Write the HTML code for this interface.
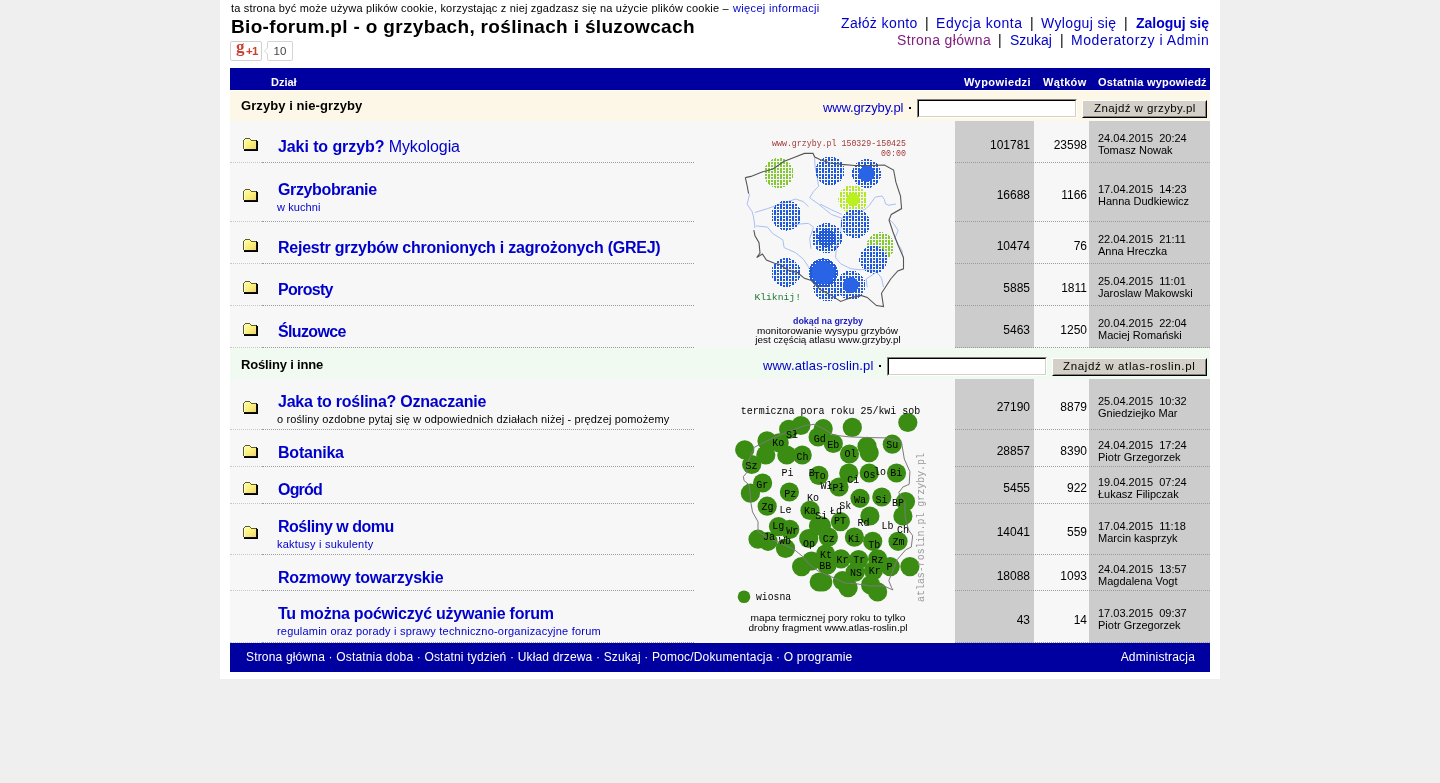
<!DOCTYPE html>
<html><head><meta charset="utf-8"><title>Bio-forum.pl</title>
<style>
html,body{margin:0;padding:0;}
body{background:#efefef;width:1440px;height:783px;overflow:hidden;position:relative;font-family:"Liberation Sans",sans-serif;}
body>div,body>svg{position:absolute;}
.t{white-space:nowrap;will-change:transform;}
</style></head><body>
<svg width="0" height="0" style="left:0;top:0"><defs><linearGradient id="fgrad" x1="0" y1="0" x2="1" y2="1"><stop offset="0" stop-color="#ffff9a"/><stop offset="0.5" stop-color="#fbf07a"/><stop offset="1" stop-color="#f0d27c"/></linearGradient></defs></svg>
<div style="left:220px;top:0px;width:1000px;height:679px;background:#fff"></div>
<div class="t" style="left:230.5px;top:-0.31px;font-size:11px;line-height:17px;font-weight:normal;color:#000;;letter-spacing:0.191px">ta strona być może używa plików cookie, korzystając z niej zgadzasz się na użycie plików cookie –</div>
<div class="t" style="left:732.7px;top:-0.31px;font-size:11px;line-height:17px;font-weight:normal;color:#0000cc;;letter-spacing:0.350px">więcej informacji</div>
<div class="t" style="left:230.5px;top:13.52px;font-size:19px;line-height:25px;font-weight:bold;color:#000;;letter-spacing:0.331px">Bio-forum.pl - o grzybach, roślinach i śluzowcach</div>
<div style="left:230px;top:41px;width:30px;height:18px;border:1px solid #d0d0d0;border-radius:2px;background:#fff"></div>
<div class="t" style="left:235.5px;top:35.11px;font-size:17px;line-height:23px;font-weight:bold;color:#c8402e;font-family:'Liberation Serif',serif;">g</div>
<div class="t" style="left:245.5px;top:41.72px;font-size:11.5px;line-height:18px;font-weight:bold;color:#c8402e;letter-spacing:-0.8px">+1</div>
<div style="left:267px;top:41px;width:24px;height:18px;border:1px solid #d4d4d4;border-radius:2px;background:#fff"></div>
<div style="left:264px;top:47px;width:0;height:0;border-top:4px solid transparent;border-bottom:4px solid transparent;border-right:4px solid #d4d4d4"></div>
<div style="left:265px;top:48px;width:0;height:0;border-top:3px solid transparent;border-bottom:3px solid transparent;border-right:3px solid #fff"></div>
<div class="t" style="left:-120px;width:800px;text-align:center;top:42.02px;font-size:11.5px;line-height:18px;font-weight:normal;color:#444;">10</div>
<div class="t" style="left:840.8px;top:12.95px;font-size:14px;line-height:20px;font-weight:normal;color:#0000cc;;letter-spacing:0.403px">Załóż konto</div>
<div class="t" style="left:925.2px;top:12.95px;font-size:14px;line-height:20px;font-weight:normal;color:#000;">|</div>
<div class="t" style="left:936.3px;top:12.95px;font-size:14px;line-height:20px;font-weight:normal;color:#0000cc;;letter-spacing:0.539px">Edycja konta</div>
<div class="t" style="left:1030.1px;top:12.95px;font-size:14px;line-height:20px;font-weight:normal;color:#000;">|</div>
<div class="t" style="left:1041.4px;top:12.95px;font-size:14px;line-height:20px;font-weight:normal;color:#0000cc;;letter-spacing:0.353px">Wyloguj się</div>
<div class="t" style="left:1124.4px;top:12.95px;font-size:14px;line-height:20px;font-weight:normal;color:#000;">|</div>
<div class="t" style="left:1135.8px;top:12.95px;font-size:14px;line-height:20px;font-weight:bold;color:#0000cc;;letter-spacing:-0.013px">Zaloguj się</div>
<div class="t" style="left:896.7px;top:29.55px;font-size:14px;line-height:20px;font-weight:normal;color:#802080;;letter-spacing:0.349px">Strona główna</div>
<div class="t" style="left:998.1px;top:29.55px;font-size:14px;line-height:20px;font-weight:normal;color:#000;">|</div>
<div class="t" style="left:1009.9px;top:29.55px;font-size:14px;line-height:20px;font-weight:normal;color:#0000cc;;letter-spacing:-0.026px">Szukaj</div>
<div class="t" style="left:1060px;top:29.55px;font-size:14px;line-height:20px;font-weight:normal;color:#000;">|</div>
<div class="t" style="left:1071.3px;top:29.55px;font-size:14px;line-height:20px;font-weight:normal;color:#0000cc;;letter-spacing:0.566px">Moderatorzy i Admin</div>
<div style="left:230px;top:68px;width:980px;height:22px;background:#0000a0"></div>
<div class="t" style="left:271.3px;top:74.19px;font-size:11px;line-height:17px;font-weight:bold;color:#fff;">Dział</div>
<div class="t" style="left:964.4px;top:74.19px;font-size:11px;line-height:17px;font-weight:bold;color:#fff;;letter-spacing:0.428px">Wypowiedzi</div>
<div class="t" style="left:1042.6px;top:74.19px;font-size:11px;line-height:17px;font-weight:bold;color:#fff;;letter-spacing:0.328px">Wątków</div>
<div class="t" style="left:1098.1px;top:74.19px;font-size:11px;line-height:17px;font-weight:bold;color:#fff;;letter-spacing:0.203px">Ostatnia wypowiedź</div>
<div style="left:230px;top:90px;width:980px;height:31px;background:#fdf7e7"></div>
<div style="left:230px;top:90px;width:980px;height:1px;background:#fff"></div>
<div class="t" style="left:241px;top:96.00px;font-size:13px;line-height:19px;font-weight:bold;color:#000;;letter-spacing:0.077px">Grzyby i nie-grzyby</div>
<div class="t" style="left:823px;top:98.00px;font-size:13px;line-height:19px;font-weight:normal;color:#0000cc;;letter-spacing:-0.135px">www.grzyby.pl</div>
<div style="left:909px;top:107px;width:2px;height:2px;background:#000"></div>
<div style="left:917px;top:99px;width:158px;height:17px;border-style:solid;border-width:1px;border-color:#808080 #fff #fff #808080"><div style="position:absolute;left:0;top:0;right:0;bottom:0;border-style:solid;border-width:1px;border-color:#000 #d4d0c8 #d4d0c8 #000;background:#fff"></div></div>
<div style="left:1082px;top:100px;width:123px;height:16px;background:#d4d0c8;border-style:solid;border-width:1px;border-color:#fff #000 #000 #fff"><div style="position:absolute;left:0;top:0;right:0;bottom:0;border-style:solid;border-width:1px;border-color:#d4d0c8 #808080 #808080 #d4d0c8"></div></div>
<div class="t" style="left:1093.6px;top:99.02px;font-size:11.5px;line-height:18px;font-weight:normal;color:#000;;letter-spacing:0.412px">Znajdź w grzyby.pl</div>
<div style="left:230px;top:121px;width:725px;height:42px;background:#f7f7f7"></div>
<div style="left:955px;top:121px;width:79px;height:42px;background:#cccccc"></div>
<div style="left:1034px;top:121px;width:55px;height:42px;background:#f7f7f7"></div>
<div style="left:1089px;top:121px;width:121px;height:42px;background:#cccccc"></div>
<div style="left:230px;top:162px;width:32px;height:1px;border-top:1px dotted #c8c8c8;height:0"></div>
<div style="left:262px;top:162px;width:432px;height:1px;border-top:1px dotted #9a9a9a;height:0"></div>
<div style="left:955px;top:162px;width:255px;height:1px;border-top:1px dotted #9a9a9a;height:0"></div>
<svg width="15" height="13" viewBox="0 0 15 13" style="left:243px;top:138px" shape-rendering="crispEdges"><rect x="1" y="2" width="12" height="9" fill="url(#fgrad)"/><rect x="2" y="1" width="5" height="1" fill="#fdfbb0"/><rect x="1" y="2" width="1" height="9" fill="#ffffd8"/><rect x="2" y="0" width="5" height="1" fill="#5a5a30"/><rect x="1" y="1" width="1" height="1" fill="#5a5a30"/><rect x="7" y="1" width="1" height="1" fill="#5a5a30"/><rect x="8" y="2" width="5" height="1" fill="#5a5a30"/><rect x="0" y="2" width="1" height="9" fill="#5a5a30"/><rect x="13" y="2" width="1" height="10" fill="#111"/><rect x="1" y="11" width="13" height="1" fill="#111"/><rect x="1" y="12" width="14" height="1" fill="#000"/><rect x="14" y="3" width="1" height="10" fill="#000"/></svg>
<div class="t" style="left:277.5px;top:135.96px;font-size:16px;line-height:22px;font-weight:bold;color:#0000cc;;letter-spacing:-0.090px">Jaki to grzyb?<span style="font-weight:normal"> Mykologia</span></div>
<div class="t" style="left:330px;width:700px;text-align:right;top:135.64px;font-size:12px;line-height:18px;font-weight:normal;color:#000;">101781</div>
<div class="t" style="left:387px;width:700px;text-align:right;top:135.64px;font-size:12px;line-height:18px;font-weight:normal;color:#000;">23598</div>
<div class="t" style="left:1098px;top:130.19px;font-size:11px;line-height:17px;font-weight:normal;color:#000;">24.04.2015&nbsp; 20:24</div>
<div class="t" style="left:1098px;top:142.19px;font-size:11px;line-height:17px;font-weight:normal;color:#000;">Tomasz Nowak</div>
<div style="left:230px;top:163px;width:725px;height:59px;background:#f7f7f7"></div>
<div style="left:955px;top:163px;width:79px;height:59px;background:#cccccc"></div>
<div style="left:1034px;top:163px;width:55px;height:59px;background:#f7f7f7"></div>
<div style="left:1089px;top:163px;width:121px;height:59px;background:#cccccc"></div>
<div style="left:230px;top:221px;width:32px;height:1px;border-top:1px dotted #c8c8c8;height:0"></div>
<div style="left:262px;top:221px;width:432px;height:1px;border-top:1px dotted #9a9a9a;height:0"></div>
<div style="left:955px;top:221px;width:255px;height:1px;border-top:1px dotted #9a9a9a;height:0"></div>
<svg width="15" height="13" viewBox="0 0 15 13" style="left:243px;top:189px" shape-rendering="crispEdges"><rect x="1" y="2" width="12" height="9" fill="url(#fgrad)"/><rect x="2" y="1" width="5" height="1" fill="#fdfbb0"/><rect x="1" y="2" width="1" height="9" fill="#ffffd8"/><rect x="2" y="0" width="5" height="1" fill="#5a5a30"/><rect x="1" y="1" width="1" height="1" fill="#5a5a30"/><rect x="7" y="1" width="1" height="1" fill="#5a5a30"/><rect x="8" y="2" width="5" height="1" fill="#5a5a30"/><rect x="0" y="2" width="1" height="9" fill="#5a5a30"/><rect x="13" y="2" width="1" height="10" fill="#111"/><rect x="1" y="11" width="13" height="1" fill="#111"/><rect x="1" y="12" width="14" height="1" fill="#000"/><rect x="14" y="3" width="1" height="10" fill="#000"/></svg>
<div class="t" style="left:277.5px;top:178.96px;font-size:16px;line-height:22px;font-weight:bold;color:#0000cc;;letter-spacing:-0.367px">Grzybobranie</div>
<div class="t" style="left:277px;top:198.89px;font-size:11px;line-height:17px;font-weight:normal;color:#0000cc;;letter-spacing:0.086px">w kuchni</div>
<div class="t" style="left:330px;width:700px;text-align:right;top:186.14px;font-size:12px;line-height:18px;font-weight:normal;color:#000;">16688</div>
<div class="t" style="left:387px;width:700px;text-align:right;top:186.14px;font-size:12px;line-height:18px;font-weight:normal;color:#000;">1166</div>
<div class="t" style="left:1098px;top:180.69px;font-size:11px;line-height:17px;font-weight:normal;color:#000;">17.04.2015&nbsp; 14:23</div>
<div class="t" style="left:1098px;top:192.69px;font-size:11px;line-height:17px;font-weight:normal;color:#000;">Hanna Dudkiewicz</div>
<div style="left:230px;top:222px;width:725px;height:42px;background:#f7f7f7"></div>
<div style="left:955px;top:222px;width:79px;height:42px;background:#cccccc"></div>
<div style="left:1034px;top:222px;width:55px;height:42px;background:#f7f7f7"></div>
<div style="left:1089px;top:222px;width:121px;height:42px;background:#cccccc"></div>
<div style="left:230px;top:263px;width:32px;height:1px;border-top:1px dotted #c8c8c8;height:0"></div>
<div style="left:262px;top:263px;width:432px;height:1px;border-top:1px dotted #9a9a9a;height:0"></div>
<div style="left:955px;top:263px;width:255px;height:1px;border-top:1px dotted #9a9a9a;height:0"></div>
<svg width="15" height="13" viewBox="0 0 15 13" style="left:243px;top:239px" shape-rendering="crispEdges"><rect x="1" y="2" width="12" height="9" fill="url(#fgrad)"/><rect x="2" y="1" width="5" height="1" fill="#fdfbb0"/><rect x="1" y="2" width="1" height="9" fill="#ffffd8"/><rect x="2" y="0" width="5" height="1" fill="#5a5a30"/><rect x="1" y="1" width="1" height="1" fill="#5a5a30"/><rect x="7" y="1" width="1" height="1" fill="#5a5a30"/><rect x="8" y="2" width="5" height="1" fill="#5a5a30"/><rect x="0" y="2" width="1" height="9" fill="#5a5a30"/><rect x="13" y="2" width="1" height="10" fill="#111"/><rect x="1" y="11" width="13" height="1" fill="#111"/><rect x="1" y="12" width="14" height="1" fill="#000"/><rect x="14" y="3" width="1" height="10" fill="#000"/></svg>
<div class="t" style="left:277.5px;top:236.96px;font-size:16px;line-height:22px;font-weight:bold;color:#0000cc;;letter-spacing:-0.237px">Rejestr grzybów chronionych i zagrożonych (GREJ)</div>
<div class="t" style="left:330px;width:700px;text-align:right;top:236.64px;font-size:12px;line-height:18px;font-weight:normal;color:#000;">10474</div>
<div class="t" style="left:387px;width:700px;text-align:right;top:236.64px;font-size:12px;line-height:18px;font-weight:normal;color:#000;">76</div>
<div class="t" style="left:1098px;top:231.19px;font-size:11px;line-height:17px;font-weight:normal;color:#000;">22.04.2015&nbsp; 21:11</div>
<div class="t" style="left:1098px;top:243.19px;font-size:11px;line-height:17px;font-weight:normal;color:#000;">Anna Hreczka</div>
<div style="left:230px;top:264px;width:725px;height:42px;background:#f7f7f7"></div>
<div style="left:955px;top:264px;width:79px;height:42px;background:#cccccc"></div>
<div style="left:1034px;top:264px;width:55px;height:42px;background:#f7f7f7"></div>
<div style="left:1089px;top:264px;width:121px;height:42px;background:#cccccc"></div>
<div style="left:230px;top:305px;width:32px;height:1px;border-top:1px dotted #c8c8c8;height:0"></div>
<div style="left:262px;top:305px;width:432px;height:1px;border-top:1px dotted #9a9a9a;height:0"></div>
<div style="left:955px;top:305px;width:255px;height:1px;border-top:1px dotted #9a9a9a;height:0"></div>
<svg width="15" height="13" viewBox="0 0 15 13" style="left:243px;top:281px" shape-rendering="crispEdges"><rect x="1" y="2" width="12" height="9" fill="url(#fgrad)"/><rect x="2" y="1" width="5" height="1" fill="#fdfbb0"/><rect x="1" y="2" width="1" height="9" fill="#ffffd8"/><rect x="2" y="0" width="5" height="1" fill="#5a5a30"/><rect x="1" y="1" width="1" height="1" fill="#5a5a30"/><rect x="7" y="1" width="1" height="1" fill="#5a5a30"/><rect x="8" y="2" width="5" height="1" fill="#5a5a30"/><rect x="0" y="2" width="1" height="9" fill="#5a5a30"/><rect x="13" y="2" width="1" height="10" fill="#111"/><rect x="1" y="11" width="13" height="1" fill="#111"/><rect x="1" y="12" width="14" height="1" fill="#000"/><rect x="14" y="3" width="1" height="10" fill="#000"/></svg>
<div class="t" style="left:277.5px;top:278.96px;font-size:16px;line-height:22px;font-weight:bold;color:#0000cc;;letter-spacing:-0.680px">Porosty</div>
<div class="t" style="left:330px;width:700px;text-align:right;top:278.64px;font-size:12px;line-height:18px;font-weight:normal;color:#000;">5885</div>
<div class="t" style="left:387px;width:700px;text-align:right;top:278.64px;font-size:12px;line-height:18px;font-weight:normal;color:#000;">1811</div>
<div class="t" style="left:1098px;top:273.19px;font-size:11px;line-height:17px;font-weight:normal;color:#000;">25.04.2015&nbsp; 11:01</div>
<div class="t" style="left:1098px;top:285.19px;font-size:11px;line-height:17px;font-weight:normal;color:#000;">Jaroslaw Makowski</div>
<div style="left:230px;top:306px;width:725px;height:42px;background:#f7f7f7"></div>
<div style="left:955px;top:306px;width:79px;height:42px;background:#cccccc"></div>
<div style="left:1034px;top:306px;width:55px;height:42px;background:#f7f7f7"></div>
<div style="left:1089px;top:306px;width:121px;height:42px;background:#cccccc"></div>
<div style="left:230px;top:347px;width:32px;height:1px;border-top:1px dotted #c8c8c8;height:0"></div>
<div style="left:262px;top:347px;width:432px;height:1px;border-top:1px dotted #9a9a9a;height:0"></div>
<div style="left:955px;top:347px;width:255px;height:1px;border-top:1px dotted #9a9a9a;height:0"></div>
<svg width="15" height="13" viewBox="0 0 15 13" style="left:243px;top:323px" shape-rendering="crispEdges"><rect x="1" y="2" width="12" height="9" fill="url(#fgrad)"/><rect x="2" y="1" width="5" height="1" fill="#fdfbb0"/><rect x="1" y="2" width="1" height="9" fill="#ffffd8"/><rect x="2" y="0" width="5" height="1" fill="#5a5a30"/><rect x="1" y="1" width="1" height="1" fill="#5a5a30"/><rect x="7" y="1" width="1" height="1" fill="#5a5a30"/><rect x="8" y="2" width="5" height="1" fill="#5a5a30"/><rect x="0" y="2" width="1" height="9" fill="#5a5a30"/><rect x="13" y="2" width="1" height="10" fill="#111"/><rect x="1" y="11" width="13" height="1" fill="#111"/><rect x="1" y="12" width="14" height="1" fill="#000"/><rect x="14" y="3" width="1" height="10" fill="#000"/></svg>
<div class="t" style="left:277.5px;top:320.96px;font-size:16px;line-height:22px;font-weight:bold;color:#0000cc;;letter-spacing:-0.644px">Śluzowce</div>
<div class="t" style="left:330px;width:700px;text-align:right;top:320.64px;font-size:12px;line-height:18px;font-weight:normal;color:#000;">5463</div>
<div class="t" style="left:387px;width:700px;text-align:right;top:320.64px;font-size:12px;line-height:18px;font-weight:normal;color:#000;">1250</div>
<div class="t" style="left:1098px;top:315.19px;font-size:11px;line-height:17px;font-weight:normal;color:#000;">20.04.2015&nbsp; 22:04</div>
<div class="t" style="left:1098px;top:327.19px;font-size:11px;line-height:17px;font-weight:normal;color:#000;">Maciej Romański</div>
<div style="left:230px;top:348px;width:980px;height:31px;background:#f0faf0"></div>
<div class="t" style="left:241px;top:355.00px;font-size:13px;line-height:19px;font-weight:bold;color:#000;;letter-spacing:-0.170px">Rośliny i inne</div>
<div class="t" style="left:763.1px;top:356.00px;font-size:13px;line-height:19px;font-weight:normal;color:#0000cc;;letter-spacing:0.152px">www.atlas-roslin.pl</div>
<div style="left:879px;top:365px;width:2px;height:2px;background:#000"></div>
<div style="left:887px;top:357px;width:158px;height:17px;border-style:solid;border-width:1px;border-color:#808080 #fff #fff #808080"><div style="position:absolute;left:0;top:0;right:0;bottom:0;border-style:solid;border-width:1px;border-color:#000 #d4d0c8 #d4d0c8 #000;background:#fff"></div></div>
<div style="left:1052px;top:358px;width:153px;height:16px;background:#d4d0c8;border-style:solid;border-width:1px;border-color:#fff #000 #000 #fff"><div style="position:absolute;left:0;top:0;right:0;bottom:0;border-style:solid;border-width:1px;border-color:#d4d0c8 #808080 #808080 #d4d0c8"></div></div>
<div class="t" style="left:1063.2px;top:357.02px;font-size:11.5px;line-height:18px;font-weight:normal;color:#000;;letter-spacing:0.645px">Znajdź w atlas-roslin.pl</div>
<div style="left:230px;top:379px;width:725px;height:51px;background:#f7f7f7"></div>
<div style="left:955px;top:379px;width:79px;height:51px;background:#cccccc"></div>
<div style="left:1034px;top:379px;width:55px;height:51px;background:#f7f7f7"></div>
<div style="left:1089px;top:379px;width:121px;height:51px;background:#cccccc"></div>
<div style="left:230px;top:429px;width:32px;height:1px;border-top:1px dotted #c8c8c8;height:0"></div>
<div style="left:262px;top:429px;width:432px;height:1px;border-top:1px dotted #9a9a9a;height:0"></div>
<div style="left:955px;top:429px;width:255px;height:1px;border-top:1px dotted #9a9a9a;height:0"></div>
<svg width="15" height="13" viewBox="0 0 15 13" style="left:243px;top:401px" shape-rendering="crispEdges"><rect x="1" y="2" width="12" height="9" fill="url(#fgrad)"/><rect x="2" y="1" width="5" height="1" fill="#fdfbb0"/><rect x="1" y="2" width="1" height="9" fill="#ffffd8"/><rect x="2" y="0" width="5" height="1" fill="#5a5a30"/><rect x="1" y="1" width="1" height="1" fill="#5a5a30"/><rect x="7" y="1" width="1" height="1" fill="#5a5a30"/><rect x="8" y="2" width="5" height="1" fill="#5a5a30"/><rect x="0" y="2" width="1" height="9" fill="#5a5a30"/><rect x="13" y="2" width="1" height="10" fill="#111"/><rect x="1" y="11" width="13" height="1" fill="#111"/><rect x="1" y="12" width="14" height="1" fill="#000"/><rect x="14" y="3" width="1" height="10" fill="#000"/></svg>
<div class="t" style="left:277.5px;top:390.96px;font-size:16px;line-height:22px;font-weight:bold;color:#0000cc;;letter-spacing:-0.231px">Jaka to roślina? Oznaczanie</div>
<div class="t" style="left:277px;top:410.89px;font-size:11px;line-height:17px;font-weight:normal;color:#000;;letter-spacing:0.128px">o rośliny ozdobne pytaj się w odpowiednich działach niżej - prędzej pomożemy</div>
<div class="t" style="left:330px;width:700px;text-align:right;top:398.14px;font-size:12px;line-height:18px;font-weight:normal;color:#000;">27190</div>
<div class="t" style="left:387px;width:700px;text-align:right;top:398.14px;font-size:12px;line-height:18px;font-weight:normal;color:#000;">8879</div>
<div class="t" style="left:1098px;top:392.69px;font-size:11px;line-height:17px;font-weight:normal;color:#000;">25.04.2015&nbsp; 10:32</div>
<div class="t" style="left:1098px;top:404.69px;font-size:11px;line-height:17px;font-weight:normal;color:#000;">Gniedziejko Mar</div>
<div style="left:230px;top:430px;width:725px;height:37px;background:#f7f7f7"></div>
<div style="left:955px;top:430px;width:79px;height:37px;background:#cccccc"></div>
<div style="left:1034px;top:430px;width:55px;height:37px;background:#f7f7f7"></div>
<div style="left:1089px;top:430px;width:121px;height:37px;background:#cccccc"></div>
<div style="left:230px;top:466px;width:32px;height:1px;border-top:1px dotted #c8c8c8;height:0"></div>
<div style="left:262px;top:466px;width:432px;height:1px;border-top:1px dotted #9a9a9a;height:0"></div>
<div style="left:955px;top:466px;width:255px;height:1px;border-top:1px dotted #9a9a9a;height:0"></div>
<svg width="15" height="13" viewBox="0 0 15 13" style="left:243px;top:445px" shape-rendering="crispEdges"><rect x="1" y="2" width="12" height="9" fill="url(#fgrad)"/><rect x="2" y="1" width="5" height="1" fill="#fdfbb0"/><rect x="1" y="2" width="1" height="9" fill="#ffffd8"/><rect x="2" y="0" width="5" height="1" fill="#5a5a30"/><rect x="1" y="1" width="1" height="1" fill="#5a5a30"/><rect x="7" y="1" width="1" height="1" fill="#5a5a30"/><rect x="8" y="2" width="5" height="1" fill="#5a5a30"/><rect x="0" y="2" width="1" height="9" fill="#5a5a30"/><rect x="13" y="2" width="1" height="10" fill="#111"/><rect x="1" y="11" width="13" height="1" fill="#111"/><rect x="1" y="12" width="14" height="1" fill="#000"/><rect x="14" y="3" width="1" height="10" fill="#000"/></svg>
<div class="t" style="left:277.5px;top:442.46px;font-size:16px;line-height:22px;font-weight:bold;color:#0000cc;;letter-spacing:-0.225px">Botanika</div>
<div class="t" style="left:330px;width:700px;text-align:right;top:442.14px;font-size:12px;line-height:18px;font-weight:normal;color:#000;">28857</div>
<div class="t" style="left:387px;width:700px;text-align:right;top:442.14px;font-size:12px;line-height:18px;font-weight:normal;color:#000;">8390</div>
<div class="t" style="left:1098px;top:436.69px;font-size:11px;line-height:17px;font-weight:normal;color:#000;">24.04.2015&nbsp; 17:24</div>
<div class="t" style="left:1098px;top:448.69px;font-size:11px;line-height:17px;font-weight:normal;color:#000;">Piotr Grzegorzek</div>
<div style="left:230px;top:467px;width:725px;height:37px;background:#f7f7f7"></div>
<div style="left:955px;top:467px;width:79px;height:37px;background:#cccccc"></div>
<div style="left:1034px;top:467px;width:55px;height:37px;background:#f7f7f7"></div>
<div style="left:1089px;top:467px;width:121px;height:37px;background:#cccccc"></div>
<div style="left:230px;top:503px;width:32px;height:1px;border-top:1px dotted #c8c8c8;height:0"></div>
<div style="left:262px;top:503px;width:432px;height:1px;border-top:1px dotted #9a9a9a;height:0"></div>
<div style="left:955px;top:503px;width:255px;height:1px;border-top:1px dotted #9a9a9a;height:0"></div>
<svg width="15" height="13" viewBox="0 0 15 13" style="left:243px;top:482px" shape-rendering="crispEdges"><rect x="1" y="2" width="12" height="9" fill="url(#fgrad)"/><rect x="2" y="1" width="5" height="1" fill="#fdfbb0"/><rect x="1" y="2" width="1" height="9" fill="#ffffd8"/><rect x="2" y="0" width="5" height="1" fill="#5a5a30"/><rect x="1" y="1" width="1" height="1" fill="#5a5a30"/><rect x="7" y="1" width="1" height="1" fill="#5a5a30"/><rect x="8" y="2" width="5" height="1" fill="#5a5a30"/><rect x="0" y="2" width="1" height="9" fill="#5a5a30"/><rect x="13" y="2" width="1" height="10" fill="#111"/><rect x="1" y="11" width="13" height="1" fill="#111"/><rect x="1" y="12" width="14" height="1" fill="#000"/><rect x="14" y="3" width="1" height="10" fill="#000"/></svg>
<div class="t" style="left:277.5px;top:479.46px;font-size:16px;line-height:22px;font-weight:bold;color:#0000cc;;letter-spacing:-0.800px">Ogród</div>
<div class="t" style="left:330px;width:700px;text-align:right;top:479.14px;font-size:12px;line-height:18px;font-weight:normal;color:#000;">5455</div>
<div class="t" style="left:387px;width:700px;text-align:right;top:479.14px;font-size:12px;line-height:18px;font-weight:normal;color:#000;">922</div>
<div class="t" style="left:1098px;top:473.69px;font-size:11px;line-height:17px;font-weight:normal;color:#000;">19.04.2015&nbsp; 07:24</div>
<div class="t" style="left:1098px;top:485.69px;font-size:11px;line-height:17px;font-weight:normal;color:#000;">Łukasz Filipczak</div>
<div style="left:230px;top:504px;width:725px;height:51px;background:#f7f7f7"></div>
<div style="left:955px;top:504px;width:79px;height:51px;background:#cccccc"></div>
<div style="left:1034px;top:504px;width:55px;height:51px;background:#f7f7f7"></div>
<div style="left:1089px;top:504px;width:121px;height:51px;background:#cccccc"></div>
<div style="left:230px;top:554px;width:32px;height:1px;border-top:1px dotted #c8c8c8;height:0"></div>
<div style="left:262px;top:554px;width:432px;height:1px;border-top:1px dotted #9a9a9a;height:0"></div>
<div style="left:955px;top:554px;width:255px;height:1px;border-top:1px dotted #9a9a9a;height:0"></div>
<svg width="15" height="13" viewBox="0 0 15 13" style="left:243px;top:526px" shape-rendering="crispEdges"><rect x="1" y="2" width="12" height="9" fill="url(#fgrad)"/><rect x="2" y="1" width="5" height="1" fill="#fdfbb0"/><rect x="1" y="2" width="1" height="9" fill="#ffffd8"/><rect x="2" y="0" width="5" height="1" fill="#5a5a30"/><rect x="1" y="1" width="1" height="1" fill="#5a5a30"/><rect x="7" y="1" width="1" height="1" fill="#5a5a30"/><rect x="8" y="2" width="5" height="1" fill="#5a5a30"/><rect x="0" y="2" width="1" height="9" fill="#5a5a30"/><rect x="13" y="2" width="1" height="10" fill="#111"/><rect x="1" y="11" width="13" height="1" fill="#111"/><rect x="1" y="12" width="14" height="1" fill="#000"/><rect x="14" y="3" width="1" height="10" fill="#000"/></svg>
<div class="t" style="left:277.5px;top:515.96px;font-size:16px;line-height:22px;font-weight:bold;color:#0000cc;;letter-spacing:-0.490px">Rośliny w domu</div>
<div class="t" style="left:277px;top:535.89px;font-size:11px;line-height:17px;font-weight:normal;color:#0000cc;;letter-spacing:0.215px">kaktusy i sukulenty</div>
<div class="t" style="left:330px;width:700px;text-align:right;top:523.14px;font-size:12px;line-height:18px;font-weight:normal;color:#000;">14041</div>
<div class="t" style="left:387px;width:700px;text-align:right;top:523.14px;font-size:12px;line-height:18px;font-weight:normal;color:#000;">559</div>
<div class="t" style="left:1098px;top:517.69px;font-size:11px;line-height:17px;font-weight:normal;color:#000;">17.04.2015&nbsp; 11:18</div>
<div class="t" style="left:1098px;top:529.69px;font-size:11px;line-height:17px;font-weight:normal;color:#000;">Marcin kasprzyk</div>
<div style="left:230px;top:555px;width:725px;height:36px;background:#f7f7f7"></div>
<div style="left:955px;top:555px;width:79px;height:36px;background:#cccccc"></div>
<div style="left:1034px;top:555px;width:55px;height:36px;background:#f7f7f7"></div>
<div style="left:1089px;top:555px;width:121px;height:36px;background:#cccccc"></div>
<div style="left:230px;top:590px;width:32px;height:1px;border-top:1px dotted #c8c8c8;height:0"></div>
<div style="left:262px;top:590px;width:432px;height:1px;border-top:1px dotted #9a9a9a;height:0"></div>
<div style="left:955px;top:590px;width:255px;height:1px;border-top:1px dotted #9a9a9a;height:0"></div>
<div class="t" style="left:277.5px;top:566.96px;font-size:16px;line-height:22px;font-weight:bold;color:#0000cc;;letter-spacing:-0.235px">Rozmowy towarzyskie</div>
<div class="t" style="left:330px;width:700px;text-align:right;top:566.64px;font-size:12px;line-height:18px;font-weight:normal;color:#000;">18088</div>
<div class="t" style="left:387px;width:700px;text-align:right;top:566.64px;font-size:12px;line-height:18px;font-weight:normal;color:#000;">1093</div>
<div class="t" style="left:1098px;top:561.19px;font-size:11px;line-height:17px;font-weight:normal;color:#000;">24.04.2015&nbsp; 13:57</div>
<div class="t" style="left:1098px;top:573.19px;font-size:11px;line-height:17px;font-weight:normal;color:#000;">Magdalena Vogt</div>
<div style="left:230px;top:591px;width:725px;height:52px;background:#f7f7f7"></div>
<div style="left:955px;top:591px;width:79px;height:52px;background:#cccccc"></div>
<div style="left:1034px;top:591px;width:55px;height:52px;background:#f7f7f7"></div>
<div style="left:1089px;top:591px;width:121px;height:52px;background:#cccccc"></div>
<div style="left:230px;top:642px;width:32px;height:1px;border-top:1px dotted #c8c8c8;height:0"></div>
<div style="left:262px;top:642px;width:432px;height:1px;border-top:1px dotted #9a9a9a;height:0"></div>
<div style="left:955px;top:642px;width:255px;height:1px;border-top:1px dotted #9a9a9a;height:0"></div>
<div class="t" style="left:277.5px;top:603.46px;font-size:16px;line-height:22px;font-weight:bold;color:#0000cc;;letter-spacing:-0.229px">Tu można poćwiczyć używanie forum</div>
<div class="t" style="left:277px;top:623.39px;font-size:11px;line-height:17px;font-weight:normal;color:#0000cc;;letter-spacing:0.207px">regulamin oraz porady i sprawy techniczno-organizacyjne forum</div>
<div class="t" style="left:330px;width:700px;text-align:right;top:610.64px;font-size:12px;line-height:18px;font-weight:normal;color:#000;">43</div>
<div class="t" style="left:387px;width:700px;text-align:right;top:610.64px;font-size:12px;line-height:18px;font-weight:normal;color:#000;">14</div>
<div class="t" style="left:1098px;top:605.19px;font-size:11px;line-height:17px;font-weight:normal;color:#000;">17.03.2015&nbsp; 09:37</div>
<div class="t" style="left:1098px;top:617.19px;font-size:11px;line-height:17px;font-weight:normal;color:#000;">Piotr Grzegorzek</div>
<div style="left:230px;top:643px;width:980px;height:29px;background:#0000a0"></div>
<div class="t" style="left:245.8px;top:647.64px;font-size:12px;line-height:18px;font-weight:normal;color:#fff;;letter-spacing:0.177px">Strona główna · Ostatnia doba · Ostatni tydzień · Układ drzewa · Szukaj · Pomoc/Dokumentacja · O programie</div>
<div class="t" style="left:495px;width:700px;text-align:right;top:647.64px;font-size:12px;line-height:18px;font-weight:normal;color:#fff;letter-spacing:0.18px">Administracja</div>
<svg width="261" height="227" viewBox="694 121 261 227" style="left:694px;top:121px" shape-rendering="crispEdges"><defs>
<pattern id="pb" patternUnits="userSpaceOnUse" width="6" height="6"><rect width="2" height="5" fill="#2259d6"/><rect x="3" width="2" height="2" fill="#2259d6"/><rect x="3" y="3" width="2" height="2" fill="#2259d6"/></pattern>
<pattern id="pbm" patternUnits="userSpaceOnUse" width="3" height="3"><rect width="3" height="3" fill="#2259d6"/><rect x="2" y="2" width="1" height="1" fill="#fff"/></pattern>
<pattern id="pg" patternUnits="userSpaceOnUse" width="6" height="6"><rect width="2" height="5" fill="#86c83a"/><rect x="3" width="2" height="2" fill="#86c83a"/><rect x="3" y="3" width="2" height="2" fill="#86c83a"/></pattern>
<pattern id="py" patternUnits="userSpaceOnUse" width="6" height="6"><rect width="2" height="5" fill="#b6e62c"/><rect x="3" width="2" height="2" fill="#b6e62c"/><rect x="3" y="3" width="2" height="2" fill="#b6e62c"/></pattern>
</defs><polyline points="749.7,193.9 747.1,204.2 752.2,211.8 753.5,217 754.8,225.9 754.8,228" fill="none" stroke="#a9bff2" stroke-width="1" shape-rendering="auto"/><polyline points="754.8,212.5 767.5,208.6 780.3,204.2 795.6,199 803.3,201.6 808.4,206.7" fill="none" stroke="#a9bff2" stroke-width="1" shape-rendering="auto"/><polyline points="809.7,197.8 813.5,191.4 818.6,186.3 817,176 815,166 814.7,158" fill="none" stroke="#a9bff2" stroke-width="1" shape-rendering="auto"/><polyline points="809.7,197.8 818.6,204.2 831.4,214.4 841.6,218.2 852.2,215.5 866,208.6 869.4,205.2 875.2,197.1 882,196 884.4,199.4 885.5,204 889,205.2 895.9,204" fill="none" stroke="#a9bff2" stroke-width="1" shape-rendering="auto"/><polyline points="820,204 831.5,209.8 841.8,214.4" fill="none" stroke="#a9bff2" stroke-width="1" shape-rendering="auto"/><polyline points="756,225.9 767.5,227.1 772.7,233.5 782.9,239.9 784.1,247.6 795.6,252.7 803.3,259.1 808.4,266.7 812,275" fill="none" stroke="#a9bff2" stroke-width="1" shape-rendering="auto"/><polyline points="793.1,224.6 808.4,223.3 813.5,227.1 809.7,238.6 811,248.9" fill="none" stroke="#a9bff2" stroke-width="1" shape-rendering="auto"/><polyline points="841.6,218.2 840.6,237.2 836.6,245.3 835.5,257.6 840.6,263.7 850.9,268.8 861.1,269.8 869.2,268.8 877.4,272.9 881.5,278 883.5,287.2" fill="none" stroke="#a9bff2" stroke-width="1" shape-rendering="auto"/><polyline points="889,219 893.6,223.6 898.2,230.5 894.8,238.2 898.9,245.3 901.9,250.4 903,257.6" fill="none" stroke="#a9bff2" stroke-width="1" shape-rendering="auto"/><polyline points="875.4,272.9 866.2,279 867.2,287.2" fill="none" stroke="#a9bff2" stroke-width="1" shape-rendering="auto"/><circle cx="778.5" cy="173" r="15" fill="url(#pg)"/><circle cx="830" cy="171" r="14.5" fill="url(#pb)"/><circle cx="866.6" cy="173.6" r="14.5" fill="url(#pb)"/><circle cx="866.6" cy="173.6" r="8.0" fill="#2a64e6"/><circle cx="852.8" cy="199.4" r="14.5" fill="url(#py)"/><circle cx="852.8" cy="199.4" r="6.5" fill="#b8f020"/><circle cx="786.5" cy="215.5" r="15" fill="url(#pb)"/><circle cx="855.6" cy="223.6" r="14.5" fill="url(#pb)"/><circle cx="827" cy="238" r="15" fill="url(#pb)"/><circle cx="827" cy="238" r="9.0" fill="url(#pbm)"/><circle cx="880.5" cy="246.3" r="14" fill="url(#pg)"/><circle cx="873.3" cy="259.6" r="14" fill="url(#pb)"/><circle cx="786" cy="272.5" r="14.5" fill="url(#pb)"/><circle cx="827.4" cy="287.2" r="14" fill="url(#pb)"/><circle cx="823.3" cy="272.9" r="14.5" fill="url(#pbm)"/><circle cx="823.3" cy="272.9" r="11.6" fill="#2a64e6"/><circle cx="850.9" cy="285.2" r="14.5" fill="url(#pb)"/><circle cx="850.9" cy="285.2" r="8.0" fill="#2a64e6"/><polyline points="745.3,177.6 751,176.4 762,172 773,169 783.7,161.5 794,157.5 804.4,153.4 813,153.4 814.7,157 820.5,159.8 830,163 841.8,164.4 854.5,165.5 870,165.5 884.4,165 893.6,170 895.9,182.2 900.5,196 901.6,208.6 891.3,214.4 889,220 893,232 898,245 903.5,257.6 903.5,268.8 897.8,270.9 890.7,279 881.5,293.3 883.5,306.6 876.4,305.6 867.2,297.4 861,295.4 850,298 840.6,301.5 829.7,294.4 820.5,289.8 811.3,280.6 804.4,278.3 797.5,272.5 788.3,270.2 780.2,264.5 774.5,263.3 766.4,260 762.4,254 756.7,257.6 760,253 759,242.6 755,235.7 753.8,230" fill="none" stroke="#555" stroke-width="1.1" shape-rendering="auto"/><polyline points="748.6,193.7 747,185 745.3,177.6" fill="none" stroke="#555" stroke-width="1.1" shape-rendering="auto"/><text x="906" y="146" text-anchor="end" style="font-family:'Liberation Mono',monospace;font-size:8.3px" fill="#a03a3a" textLength="134" lengthAdjust="spacingAndGlyphs">www.grzyby.pl 150329-150425</text><text x="906" y="156" text-anchor="end" style="font-family:'Liberation Mono',monospace;font-size:8.3px" fill="#a03a3a">00:00</text><text x="754.4" y="300" style="font-family:'Liberation Mono',monospace;font-size:9.8px" fill="#1f7a36" textLength="46.6" lengthAdjust="spacingAndGlyphs">Kliknij!</text><text x="793" y="323.5" style="font-family:'Liberation Sans',sans-serif;font-size:8.6px;font-weight:bold" fill="#2020c0" textLength="70" lengthAdjust="spacingAndGlyphs">dokąd na grzyby</text><text x="757" y="333.5" style="font-family:'Liberation Sans',sans-serif;font-size:9px" fill="#000" textLength="141" lengthAdjust="spacingAndGlyphs">monitorowanie wysypu grzybów</text><text x="755.3" y="343" style="font-family:'Liberation Sans',sans-serif;font-size:9px" fill="#000" textLength="145.3" lengthAdjust="spacingAndGlyphs">jest częścią atlasu www.grzyby.pl</text></svg>
<svg width="261" height="264" viewBox="694 379 261 264" style="left:694px;top:379px"><circle cx="744.7" cy="449.8" r="9.6" fill="#3a8c12"/><circle cx="751.7" cy="464.5" r="9.6" fill="#3a8c12"/><circle cx="767" cy="440.9" r="9.6" fill="#3a8c12"/><circle cx="765.8" cy="455" r="9.6" fill="#3a8c12"/><circle cx="779.2" cy="442.8" r="9.6" fill="#3a8c12"/><circle cx="788.7" cy="429.4" r="9.6" fill="#3a8c12"/><circle cx="800.9" cy="425.5" r="9.6" fill="#3a8c12"/><circle cx="786.8" cy="455" r="9.6" fill="#3a8c12"/><circle cx="802.2" cy="455" r="9.6" fill="#3a8c12"/><circle cx="818.1" cy="437" r="9.6" fill="#3a8c12"/><circle cx="823.2" cy="428.7" r="9.6" fill="#3a8c12"/><circle cx="852.3" cy="427.4" r="9.6" fill="#3a8c12"/><circle cx="907.8" cy="422.5" r="9.6" fill="#3a8c12"/><circle cx="833.3" cy="443.5" r="9.6" fill="#3a8c12"/><circle cx="849.5" cy="454" r="9.6" fill="#3a8c12"/><circle cx="867" cy="446.3" r="9.6" fill="#3a8c12"/><circle cx="869.2" cy="452.7" r="9.6" fill="#3a8c12"/><circle cx="892.3" cy="444.2" r="9.6" fill="#3a8c12"/><circle cx="818.8" cy="475.4" r="9.6" fill="#3a8c12"/><circle cx="848.8" cy="473" r="9.6" fill="#3a8c12"/><circle cx="869.2" cy="473" r="9.6" fill="#3a8c12"/><circle cx="896.5" cy="473" r="9.6" fill="#3a8c12"/><circle cx="839" cy="487" r="9.6" fill="#3a8c12"/><circle cx="762.6" cy="483" r="9.6" fill="#3a8c12"/><circle cx="750.4" cy="493.2" r="9.6" fill="#3a8c12"/><circle cx="789.4" cy="492" r="9.6" fill="#3a8c12"/><circle cx="860" cy="498.3" r="9.6" fill="#3a8c12"/><circle cx="881.8" cy="497" r="9.6" fill="#3a8c12"/><circle cx="905.5" cy="501.5" r="9.6" fill="#3a8c12"/><circle cx="902.9" cy="516" r="9.6" fill="#3a8c12"/><circle cx="767.2" cy="506.2" r="9.6" fill="#3a8c12"/><circle cx="810" cy="510.4" r="9.6" fill="#3a8c12"/><circle cx="869.9" cy="516" r="9.6" fill="#3a8c12"/><circle cx="840.4" cy="521.7" r="9.6" fill="#3a8c12"/><circle cx="778.5" cy="526.6" r="9.6" fill="#3a8c12"/><circle cx="789.7" cy="529.4" r="9.6" fill="#3a8c12"/><circle cx="758" cy="539.2" r="9.6" fill="#3a8c12"/><circle cx="768" cy="541.3" r="9.6" fill="#3a8c12"/><circle cx="785.5" cy="548.4" r="9.6" fill="#3a8c12"/><circle cx="808.7" cy="538.5" r="9.6" fill="#3a8c12"/><circle cx="818.5" cy="525.9" r="9.6" fill="#3a8c12"/><circle cx="828.4" cy="537.1" r="9.6" fill="#3a8c12"/><circle cx="821.4" cy="525.9" r="9.6" fill="#3a8c12"/><circle cx="854.4" cy="537.1" r="9.6" fill="#3a8c12"/><circle cx="872.7" cy="541.3" r="9.6" fill="#3a8c12"/><circle cx="898" cy="541.3" r="9.6" fill="#3a8c12"/><circle cx="825.6" cy="554" r="9.6" fill="#3a8c12"/><circle cx="841" cy="558.9" r="9.6" fill="#3a8c12"/><circle cx="827" cy="565.2" r="9.6" fill="#3a8c12"/><circle cx="801.6" cy="566.6" r="9.6" fill="#3a8c12"/><circle cx="811.5" cy="561" r="9.6" fill="#3a8c12"/><circle cx="819.2" cy="582" r="9.6" fill="#3a8c12"/><circle cx="858.6" cy="559.6" r="9.6" fill="#3a8c12"/><circle cx="877.6" cy="558.9" r="9.6" fill="#3a8c12"/><circle cx="890.2" cy="566.6" r="9.6" fill="#3a8c12"/><circle cx="909.9" cy="566.6" r="9.6" fill="#3a8c12"/><circle cx="855.1" cy="572.2" r="9.6" fill="#3a8c12"/><circle cx="873.4" cy="570.8" r="9.6" fill="#3a8c12"/><circle cx="842.5" cy="580.7" r="9.6" fill="#3a8c12"/><circle cx="848.1" cy="587.7" r="9.6" fill="#3a8c12"/><circle cx="870.6" cy="584.9" r="9.6" fill="#3a8c12"/><circle cx="877.6" cy="591.9" r="9.6" fill="#3a8c12"/><circle cx="822.8" cy="582" r="9.6" fill="#3a8c12"/><polyline points="754.3,447.3 759.4,444.7 775,437 790,431 805,425.5 814.3,424.3 822,428 834,435.1 848.1,436.8 866,437.5 886,437.9 901.5,442.1 904.3,459 909.9,471.6 909.2,484.3 902.9,487 898.7,492.7 905,502 905,516 908.5,530 912.7,535.7 911.3,547 905.7,549.8 897.2,559.6 888.8,580.7 891.6,587.7 893,590 884,586 870,586 858,584 845,583 832,577 818,571 808,563 803,556.8 798.8,553.3 794.6,549.8 780,543 766,537 758,531.5 758,521.7 752.5,511.9 751,503.4 749.2,485 744,480.5 743.4,476.6 746.6,472.8 748,462 754.3,447.3" fill="none" stroke="#7a7a7a" stroke-width="1"/><text x="792" y="438.4" text-anchor="middle" style="font-family:'Liberation Mono',monospace;font-size:10px" fill="#000">Sł</text><text x="778.3" y="446.4" text-anchor="middle" style="font-family:'Liberation Mono',monospace;font-size:10px" fill="#000">Ko</text><text x="819.8" y="442.4" text-anchor="middle" style="font-family:'Liberation Mono',monospace;font-size:10px" fill="#000">Gd</text><text x="833.2" y="447.7" text-anchor="middle" style="font-family:'Liberation Mono',monospace;font-size:10px" fill="#000">Eb</text><text x="892.2" y="447.7" text-anchor="middle" style="font-family:'Liberation Mono',monospace;font-size:10px" fill="#000">Su</text><text x="802.4" y="460.3" text-anchor="middle" style="font-family:'Liberation Mono',monospace;font-size:10px" fill="#000">Ch</text><text x="850.6" y="457.1" text-anchor="middle" style="font-family:'Liberation Mono',monospace;font-size:10px" fill="#000">Ol</text><text x="751.4" y="469.2" text-anchor="middle" style="font-family:'Liberation Mono',monospace;font-size:10px" fill="#000">Sz</text><text x="787.6" y="475.9" text-anchor="middle" style="font-family:'Liberation Mono',monospace;font-size:10px" fill="#000">Pi</text><text x="811.8" y="476.4" text-anchor="middle" style="font-family:'Liberation Mono',monospace;font-size:10px" fill="#000">B</text><text x="819.8" y="478.5" text-anchor="middle" style="font-family:'Liberation Mono',monospace;font-size:10px" fill="#000">To</text><text x="869.4" y="478.0" text-anchor="middle" style="font-family:'Liberation Mono',monospace;font-size:10px" fill="#000">Os</text><text x="880.1" y="475.3" text-anchor="middle" style="font-family:'Liberation Mono',monospace;font-size:10px" fill="#000">lo</text><text x="896.2" y="476.4" text-anchor="middle" style="font-family:'Liberation Mono',monospace;font-size:10px" fill="#000">Bi</text><text x="853.3" y="483.4" text-anchor="middle" style="font-family:'Liberation Mono',monospace;font-size:10px" fill="#000">Ci</text><text x="826.5" y="488.8" text-anchor="middle" style="font-family:'Liberation Mono',monospace;font-size:10px" fill="#000">Wł</text><text x="838.6" y="490.6" text-anchor="middle" style="font-family:'Liberation Mono',monospace;font-size:10px" fill="#000">Pł</text><text x="762.2" y="488.0" text-anchor="middle" style="font-family:'Liberation Mono',monospace;font-size:10px" fill="#000">Gr</text><text x="790.3" y="496.5" text-anchor="middle" style="font-family:'Liberation Mono',monospace;font-size:10px" fill="#000">Pz</text><text x="813.1" y="500.5" text-anchor="middle" style="font-family:'Liberation Mono',monospace;font-size:10px" fill="#000">Ko</text><text x="860" y="503.2" text-anchor="middle" style="font-family:'Liberation Mono',monospace;font-size:10px" fill="#000">Wa</text><text x="881.5" y="503.2" text-anchor="middle" style="font-family:'Liberation Mono',monospace;font-size:10px" fill="#000">Si</text><text x="898" y="505.5" text-anchor="middle" style="font-family:'Liberation Mono',monospace;font-size:10px" fill="#000">BP</text><text x="767.5" y="510.2" text-anchor="middle" style="font-family:'Liberation Mono',monospace;font-size:10px" fill="#000">Zg</text><text x="785.5" y="512.9" text-anchor="middle" style="font-family:'Liberation Mono',monospace;font-size:10px" fill="#000">Le</text><text x="810" y="513.5" text-anchor="middle" style="font-family:'Liberation Mono',monospace;font-size:10px" fill="#000">Ka</text><text x="835.9" y="513.5" text-anchor="middle" style="font-family:'Liberation Mono',monospace;font-size:10px" fill="#000">Łd</text><text x="845.3" y="509.4" text-anchor="middle" style="font-family:'Liberation Mono',monospace;font-size:10px" fill="#000">Sk</text><text x="821.2" y="519.3" text-anchor="middle" style="font-family:'Liberation Mono',monospace;font-size:10px" fill="#000">Si</text><text x="839.9" y="524.1" text-anchor="middle" style="font-family:'Liberation Mono',monospace;font-size:10px" fill="#000">PT</text><text x="863.5" y="525.5" text-anchor="middle" style="font-family:'Liberation Mono',monospace;font-size:10px" fill="#000">Rd</text><text x="887.6" y="529.0" text-anchor="middle" style="font-family:'Liberation Mono',monospace;font-size:10px" fill="#000">Lb</text><text x="902.9" y="532.7" text-anchor="middle" style="font-family:'Liberation Mono',monospace;font-size:10px" fill="#000">Ch</text><text x="778.3" y="529.0" text-anchor="middle" style="font-family:'Liberation Mono',monospace;font-size:10px" fill="#000">Lg</text><text x="792.2" y="533.5" text-anchor="middle" style="font-family:'Liberation Mono',monospace;font-size:10px" fill="#000">Wr</text><text x="768.9" y="540.2" text-anchor="middle" style="font-family:'Liberation Mono',monospace;font-size:10px" fill="#000">Ja</text><text x="785" y="543.5" text-anchor="middle" style="font-family:'Liberation Mono',monospace;font-size:10px" fill="#000">Wb</text><text x="809" y="546.9" text-anchor="middle" style="font-family:'Liberation Mono',monospace;font-size:10px" fill="#000">Op</text><text x="828.7" y="542.4" text-anchor="middle" style="font-family:'Liberation Mono',monospace;font-size:10px" fill="#000">Cz</text><text x="853.9" y="542.4" text-anchor="middle" style="font-family:'Liberation Mono',monospace;font-size:10px" fill="#000">Ki</text><text x="874.2" y="548.3" text-anchor="middle" style="font-family:'Liberation Mono',monospace;font-size:10px" fill="#000">Tb</text><text x="898.4" y="545.1" text-anchor="middle" style="font-family:'Liberation Mono',monospace;font-size:10px" fill="#000">Zm</text><text x="826" y="557.7" text-anchor="middle" style="font-family:'Liberation Mono',monospace;font-size:10px" fill="#000">Kt</text><text x="842.6" y="563.0" text-anchor="middle" style="font-family:'Liberation Mono',monospace;font-size:10px" fill="#000">Kr</text><text x="859.2" y="563.0" text-anchor="middle" style="font-family:'Liberation Mono',monospace;font-size:10px" fill="#000">Tr</text><text x="877.5" y="563.0" text-anchor="middle" style="font-family:'Liberation Mono',monospace;font-size:10px" fill="#000">Rz</text><text x="889.5" y="569.7" text-anchor="middle" style="font-family:'Liberation Mono',monospace;font-size:10px" fill="#000">P</text><text x="825.2" y="569.2" text-anchor="middle" style="font-family:'Liberation Mono',monospace;font-size:10px" fill="#000">BB</text><text x="856" y="576.4" text-anchor="middle" style="font-family:'Liberation Mono',monospace;font-size:10px" fill="#000">NS</text><text x="874.8" y="573.7" text-anchor="middle" style="font-family:'Liberation Mono',monospace;font-size:10px" fill="#000">Kr</text><text x="740.7" y="413.5" style="font-family:'Liberation Mono',monospace;font-size:10px" fill="#000" textLength="179.6" lengthAdjust="spacingAndGlyphs">termiczna pora roku 25/kwi sob</text><circle cx="744" cy="596.8" r="6.3" fill="#3a8c12"/><text x="756" y="599.8" style="font-family:'Liberation Mono',monospace;font-size:10px" fill="#000" textLength="35.1" lengthAdjust="spacingAndGlyphs">wiosna</text><text transform="translate(924,602) rotate(-90)" x="0" y="0" style="font-family:'Liberation Mono',monospace;font-size:10.5px" fill="#999" textLength="149" lengthAdjust="spacingAndGlyphs">atlas-roslin.pl grzyby.pl</text><text x="828" y="620.5" text-anchor="middle" style="font-family:'Liberation Sans',sans-serif;font-size:9px" fill="#000" textLength="155" lengthAdjust="spacingAndGlyphs">mapa termicznej pory roku to tylko</text><text x="828" y="631" text-anchor="middle" style="font-family:'Liberation Sans',sans-serif;font-size:9px" fill="#000" textLength="159" lengthAdjust="spacingAndGlyphs">drobny fragment www.atlas-roslin.pl</text></svg>
</body></html>
